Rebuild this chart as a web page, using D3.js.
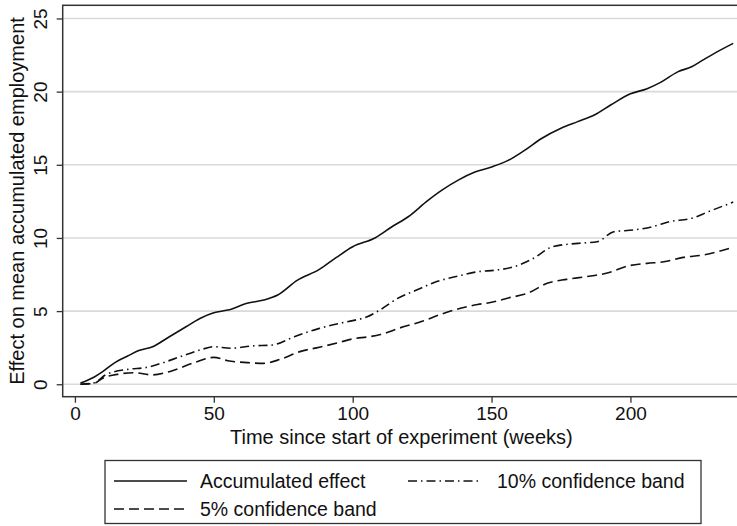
<!DOCTYPE html>
<html>
<head>
<meta charset="utf-8">
<script src="https://cdn.jsdelivr.net/npm/d3@7"></script>
<style>
  body { margin: 0; background: #fff; }
  svg { display: block; font-family: 'Liberation Sans', Arial, sans-serif; }
</style>
</head>
<body>
<svg id="chart" width="737" height="526"></svg>
<script>
// Weeks since start and the estimated effect
const weeks = [2, 7, 10, 14, 19, 23, 28, 34, 40, 45, 50, 55, 62, 68, 73, 80, 88, 94, 100, 108, 114, 120, 127, 132, 138, 144, 150, 156, 162, 168, 175, 181, 187, 193, 200, 206, 211, 217, 222, 226, 231, 237];
const accumulated = [0.08, 0.5, 0.86, 1.43, 1.93, 2.3, 2.57, 3.25, 3.93, 4.5, 4.89, 5.07, 5.53, 5.76, 6.1, 7.1, 7.85, 8.65, 9.4, 10.0, 10.75, 11.45, 12.55, 13.25, 13.95, 14.5, 14.85, 15.3, 16.0, 16.8, 17.5, 17.95, 18.4, 19.1, 19.85, 20.2, 20.65, 21.35, 21.7, 22.15, 22.7, 23.3];

const weeks10 = [2, 7, 11, 19, 26, 31, 38, 45, 50, 56, 64, 71, 79, 88, 95, 100, 105, 110, 116, 123, 130, 138, 145, 152, 158, 165, 172, 181, 188, 194, 201, 208, 214, 222, 228, 237];
const band10 = [0.0, 0.1, 0.64, 1.02, 1.16, 1.43, 1.89, 2.34, 2.57, 2.46, 2.62, 2.68, 3.25, 3.82, 4.15, 4.35, 4.6, 5.1, 5.85, 6.44, 7.0, 7.4, 7.69, 7.81, 8.03, 8.6, 9.4, 9.63, 9.74, 10.42, 10.54, 10.77, 11.11, 11.34, 11.79, 12.45];

const weeks5 = [2, 7, 10, 16, 21, 28, 34, 43, 50, 55, 62, 68, 74, 81, 88, 95, 100, 106, 110, 117, 125, 132, 140, 145, 150, 156, 163, 170, 177, 184, 192, 199, 206, 212, 219, 226, 237];
const band5 = [0.0, 0.07, 0.41, 0.7, 0.79, 0.64, 0.86, 1.48, 1.84, 1.61, 1.48, 1.43, 1.71, 2.23, 2.53, 2.85, 3.1, 3.25, 3.4, 3.85, 4.3, 4.8, 5.25, 5.45, 5.6, 5.9, 6.22, 6.9, 7.17, 7.35, 7.62, 8.08, 8.26, 8.37, 8.67, 8.83, 9.36];

const xTicks = [0, 50, 100, 150, 200];
const yTicks = [0, 5, 10, 15, 20, 25];

const seriesNames = ['Accumulated effect', '10% confidence band', '5% confidence band'];
const dashes = ['none', '9,4,1.5,4', '10,5'];

const plot = { left: 62.7, right: 736, top: 5.3, bottom: 396.7 };

const svg = d3.select('#chart');

const x = d3.scaleLinear().domain([-4.4, 238]).range([plot.left, plot.right]);
const y = d3.scaleLinear().domain([-0.85, 25.9]).range([plot.bottom, plot.top]);

const series = [
  { name: seriesNames[0], dash: dashes[0], values: weeks.map((w, i) => [w, accumulated[i]]) },
  { name: seriesNames[1], dash: dashes[1], values: weeks10.map((w, i) => [w, band10[i]]) },
  { name: seriesNames[2], dash: dashes[2], values: weeks5.map((w, i) => [w, band5[i]]) },
];

drawGrid(svg);
drawLines(svg);
drawFrame(svg);
drawAxes(svg);
drawLegend(svg);

function drawGrid(sel) {
  sel.append('g')
    .attr('class', 'grid')
    .selectAll('line')
    .data(yTicks)
    .join('line')
    .attr('x1', plot.left)
    .attr('x2', plot.right + 5)
    .attr('y1', (d) => y(d))
    .attr('y2', (d) => y(d))
    .attr('stroke', '#dadada')
    .attr('stroke-width', 1.6);
}

function drawLines(sel) {
  const line = d3.line()
    .x((d) => x(d[0]))
    .y((d) => y(d[1]))
    .curve(d3.curveMonotoneX);

  sel.append('g')
    .attr('class', 'lines')
    .selectAll('path')
    .data(series)
    .join('path')
    .attr('d', (d) => line(d.values))
    .attr('fill', 'none')
    .attr('stroke', '#111')
    .attr('stroke-width', 1.6)
    .attr('stroke-dasharray', (d) => d.dash);
}

function drawFrame(sel) {
  // right edge of the plot region sits outside the picture
  sel.append('rect')
    .attr('x', plot.left)
    .attr('y', plot.top)
    .attr('width', plot.right - plot.left + 10)
    .attr('height', plot.bottom - plot.top)
    .attr('fill', 'none')
    .attr('stroke', '#333')
    .attr('stroke-width', 1.5);
}

function drawAxes(sel) {
  const xAxis = sel.append('g')
    .attr('transform', `translate(0, ${plot.bottom})`)
    .call(d3.axisBottom(x).tickValues(xTicks).tickSize(6).tickPadding(4));

  const yAxis = sel.append('g')
    .attr('transform', `translate(${plot.left}, 0)`)
    .call(d3.axisLeft(y).tickValues(yTicks).tickSize(6));

  [xAxis, yAxis].forEach((g) => {
    g.select('.domain').remove();
    g.selectAll('line').attr('stroke', '#333').attr('stroke-width', 1.3);
    g.selectAll('text').attr('fill', '#111').style('font-size', '19px');
  });

  // Stata style: y tick labels stand on their side
  yAxis.selectAll('text')
    .attr('x', null)
    .attr('dy', null)
    .attr('text-anchor', 'middle')
    .attr('transform', 'translate(-16, 0) rotate(-90)');

  // axis titles are centred on the plot region
  sel.append('text')
    .attr('x', (plot.left + plot.right) / 2 + 2)
    .attr('y', 444)
    .attr('text-anchor', 'middle')
    .attr('fill', '#111')
    .style('font-size', '20px')
    .text('Time since start of experiment (weeks)');

  sel.append('text')
    .attr('transform', `translate(24, ${(plot.top + plot.bottom) / 2}) rotate(-90)`)
    .attr('text-anchor', 'middle')
    .attr('fill', '#111')
    .style('font-size', '20px')
    .text('Effect on mean accumulated employment');
}

function drawLegend(sel) {
  const box = { x: 105, y: 460.5, w: 596, h: 63 };
  const slots = [
    { lx: 114, tx: 86, ty: 481 },
    { lx: 408, tx: 89, ty: 481 },
    { lx: 114, tx: 86, ty: 509 },
  ];

  const g = sel.append('g').attr('class', 'legend');

  g.append('rect')
    .attr('x', box.x)
    .attr('y', box.y)
    .attr('width', box.w)
    .attr('height', box.h)
    .attr('fill', '#fff')
    .attr('stroke', '#333')
    .attr('stroke-width', 1.3);

  const item = g.selectAll('g.item')
    .data(series)
    .join('g')
    .attr('class', 'item')
    .attr('transform', (d, i) => `translate(${slots[i].lx}, ${slots[i].ty})`);

  item.append('line')
    .attr('x1', 0)
    .attr('x2', 73)
    .attr('stroke', '#111')
    .attr('stroke-width', 1.6)
    .attr('stroke-dasharray', (d) => d.dash);

  item.append('text')
    .attr('x', (d, i) => slots[i].tx)
    .attr('dy', '0.35em')
    .attr('fill', '#111')
    .style('font-size', '19.5px')
    .text((d) => d.name);
}
</script>
</body>
</html>
